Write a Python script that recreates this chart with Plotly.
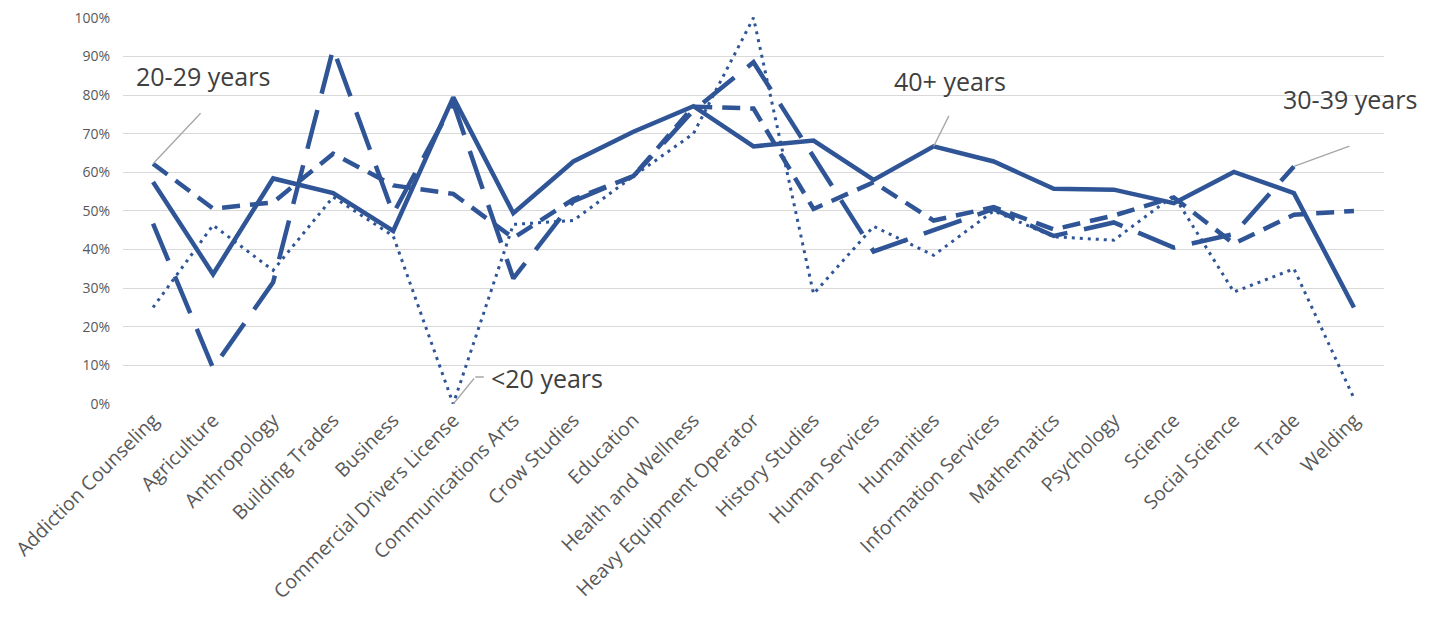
import plotly.graph_objects as go

categories = ["Addiction Counseling", "Agriculture", "Anthropology", "Building Trades", "Business",
              "Commercial Drivers License", "Communications Arts", "Crow Studies", "Education",
              "Health and Wellness", "Heavy Equipment Operator", "History Studies", "Human Services",
              "Humanities", "Information Services", "Mathematics", "Psychology", "Science",
              "Social Science", "Trade", "Welding"]

under20 = [0.25, 0.463, 0.346, 0.536, 0.435, 0.0, 0.465, 0.475, 0.59, 0.70, 1.0, 0.285, 0.46,
           0.385, 0.50, 0.433, 0.424, 0.54, 0.29, 0.35, 0.015]
y20_29 = [0.622, 0.506, 0.522, 0.648, 0.566, 0.544, 0.43, 0.53, 0.59, 0.77, 0.765, 0.505, 0.574,
          0.475, 0.51, 0.452, 0.488, 0.535, 0.415, 0.49, 0.50]
y30_39 = [0.467, 0.093, 0.315, 0.92, 0.493, 0.78, 0.325, 0.525, 0.59, 0.76, 0.885, 0.64, 0.395,
          0.45, 0.505, 0.435, 0.47, 0.405, 0.44, 0.615, None]
y40plus = [0.575, 0.336, 0.584, 0.546, 0.448, 0.794, 0.494, 0.628, 0.705, 0.771, 0.667, 0.682,
           0.58, 0.667, 0.628, 0.557, 0.555, 0.52, 0.601, 0.546, 0.25]

y_ticks = [i / 10 for i in range(11)]

COLOR = "#2F5597"

fig = go.Figure()
fig.add_trace(go.Scatter(x=categories, y=under20, mode="lines", name="<20 years",
                         line=dict(color=COLOR, width=3, dash="3px,5px")))
fig.add_trace(go.Scatter(x=categories, y=y20_29, mode="lines", name="20-29 years",
                         line=dict(color=COLOR, width=4.5, dash="18px,10px")))
fig.add_trace(go.Scatter(x=categories, y=y30_39, mode="lines", name="30-39 years",
                         line=dict(color=COLOR, width=4.5, dash="40px,17px")))
fig.add_trace(go.Scatter(x=categories, y=y40plus, mode="lines", name="40+ years",
                         line=dict(color=COLOR, width=4.5)))

GRAY = "#A6A6A6"
LABEL_FONT = dict(family="Open Sans", size=25, color="#404040")

annotations = [
    # leader lines
    dict(x=categories[0], y=y20_29[0], ax=49, ay=-52, text="", showarrow=True,
         arrowhead=0, arrowwidth=1.3, arrowcolor=GRAY),
    dict(x=categories[13], y=y40plus[13], ax=16, ay=-32, text="", showarrow=True,
         arrowhead=0, arrowwidth=1.3, arrowcolor=GRAY),
    dict(x=categories[5], y=under20[5], ax=22, ay=-27, text="", showarrow=True,
         arrowhead=0, arrowwidth=1.3, arrowcolor=GRAY),
    dict(x=categories[5], y=under20[5], xshift=22, yshift=27, ax=10, ay=0, text="",
         showarrow=True, arrowhead=0, arrowwidth=1.3, arrowcolor=GRAY),
    dict(x=categories[19], y=y30_39[19], ax=57, ay=-21, text="", showarrow=True,
         arrowhead=0, arrowwidth=1.3, arrowcolor=GRAY),
    # labels
    dict(x=categories[0], y=y20_29[0], xshift=50, yshift=88, text="20-29 years",
         showarrow=False, font=LABEL_FONT),
    dict(x=categories[13], y=y40plus[13], xshift=16, yshift=65, text="40+ years",
         showarrow=False, font=LABEL_FONT),
    dict(x=categories[5], y=under20[5], xshift=36, yshift=26, text="<20 years",
         showarrow=False, xanchor="left", font=LABEL_FONT),
    dict(x=categories[19], y=y30_39[19], xshift=56, yshift=67, text="30-39 years",
         showarrow=False, font=LABEL_FONT),
]

fig.update_layout(
    width=1420, height=608,
    margin=dict(l=115, r=44, t=9, b=212),
    plot_bgcolor="white", paper_bgcolor="white",
    showlegend=False,
    annotations=annotations,
    xaxis=dict(type="category", range=[-0.5, len(categories) - 0.5], showgrid=False,
               showline=False, ticks="", automargin=False, tickangle=-45,
               tickfont=dict(family="Open Sans", size=19.5, color="#595959")),
    yaxis=dict(range=[0, 1.002], tickvals=y_ticks, tickformat=".0%", showgrid=True,
               gridcolor="#D9D9D9", gridwidth=1.3, zeroline=False, showline=False,
               ticks="", ticklabelstandoff=12, automargin=False, ticklabeloverflow="allow",
               tickfont=dict(family="Open Sans", size=14, color="#595959")),
)

fig.write_html("out.html")
